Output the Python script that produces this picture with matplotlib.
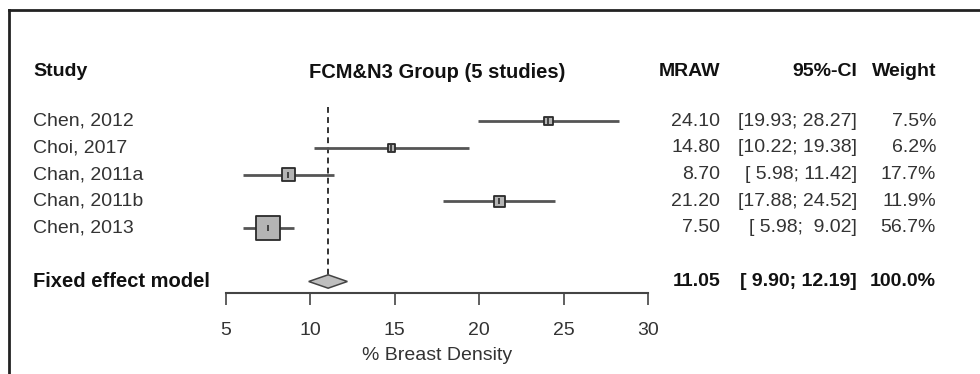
import matplotlib
matplotlib.use('Agg')
import matplotlib.pyplot as plt
import matplotlib.transforms as mtransforms
from matplotlib.lines import Line2D
from matplotlib.patches import Polygon

plt.rcParams['font.family'] = ['Liberation Sans', 'DejaVu Sans']

# data
studies = ['Chen, 2012', 'Choi, 2017', 'Chan, 2011a', 'Chan, 2011b', 'Chen, 2013']
mraw = [24.10, 14.80, 8.70, 21.20, 7.50]
ci_low = [19.93, 10.22, 5.98, 17.88, 5.98]
ci_high = [28.27, 19.38, 11.42, 24.52, 9.02]
weights = [7.5, 6.2, 17.7, 11.9, 56.7]
ci_txt = ['[19.93; 28.27]', '[10.22; 19.38]', '[ 5.98; 11.42]', '[17.88; 24.52]', '[ 5.98;  9.02]']

fixed_mean = 11.05
fixed_low = 9.90
fixed_high = 12.19
fixed_ci_txt = '[ 9.90; 12.19]'

xticks = [5, 10, 15, 20, 25, 30]

W, H = 980, 374
fig = plt.figure(figsize=(W / 100, H / 100), dpi=100)

# axis area in pixels: x 5..30 -> 226..648, rows from y=100 to the axis line y=293
ax = fig.add_axes([226 / W, (H - 293) / H, (648 - 226) / W, (293 - 100) / H])
row0, rowstep = 121, 26.75
ax.set_xlim(5, 30)
ax.set_ylim((293 - row0) / rowstep, (100 - row0) / rowstep)
for s in ['top', 'left', 'right']:
    ax.spines[s].set_visible(False)
ax.spines['bottom'].set_color('#444444')
ax.spines['bottom'].set_linewidth(1.5)
ax.set_yticks([])
ax.set_xticks(xticks)
ax.tick_params(axis='x', length=8.6, width=1.2, color='#444444', pad=12,
               labelsize=14, labelcolor='#333333')
ax.set_xlabel('% Breast Density', fontsize=14, color='#333333', labelpad=6)

rows = list(range(len(studies)))
fixed_row = 6

# dashed line at the pooled estimate
ax.vlines(fixed_mean, -0.52, fixed_row + 0.15, colors='#333333', linestyles=(0, (3, 2.2)),
          linewidth=1.4)

# confidence intervals
ax.hlines(rows, ci_low, ci_high, colors='#555555', linewidth=2)

# squares, area ~ weight
sizes = [290 * w / max(weights) for w in weights]
ax.scatter(mraw, rows, s=sizes, marker='s', facecolor='#B4B4B4', edgecolor='#2a2a2a',
           linewidth=1.3, zorder=3)
ax.scatter(mraw, rows, s=14, marker='|', color='#222222', linewidth=1.1, zorder=4)

# diamond for the fixed effect model
h = 0.25
ax.add_patch(Polygon([(fixed_low, fixed_row), (fixed_mean, fixed_row - h),
                      (fixed_high, fixed_row), (fixed_mean, fixed_row + h)],
                     closed=True, facecolor='#BEBEBE', edgecolor='#444444', linewidth=1.1,
                     zorder=3))

# text columns
tr = mtransforms.blended_transform_factory(fig.transFigure, ax.transData)
hdr_row = (72 - row0) / rowstep
fs = 14
fsb = 14.5
txtc = '#333333'
boldc = '#111111'

ax.text(33 / W, hdr_row, 'Study', transform=tr, ha='left', va='center', fontsize=fs,
        fontweight='bold', color=boldc, clip_on=False)
ax.text(437 / W, hdr_row, 'FCM&N3 Group (5 studies)', transform=tr, ha='center',
        va='center', fontsize=fsb, fontweight='bold', color=boldc, clip_on=False)
ax.text(720 / W, hdr_row, 'MRAW', transform=tr, ha='right', va='center', fontsize=fs,
        fontweight='bold', color=boldc, clip_on=False)
ax.text(857 / W, hdr_row, '95%-CI', transform=tr, ha='right', va='center', fontsize=fs,
        fontweight='bold', color=boldc, clip_on=False)
ax.text(936 / W, hdr_row, 'Weight', transform=tr, ha='right', va='center', fontsize=fs,
        fontweight='bold', color=boldc, clip_on=False)

for i, name in enumerate(studies):
    ax.text(33 / W, i, name, transform=tr, ha='left', va='center', fontsize=fs,
            color=txtc, clip_on=False)
    ax.text(720 / W, i, '%.2f' % mraw[i], transform=tr, ha='right', va='center',
            fontsize=fs, color=txtc, clip_on=False)
    ax.text(857 / W, i, ci_txt[i], transform=tr, ha='right', va='center', fontsize=fs,
            color=txtc, clip_on=False)
    ax.text(936 / W, i, '%.1f%%' % weights[i], transform=tr, ha='right', va='center',
            fontsize=fs, color=txtc, clip_on=False)

ax.text(33 / W, fixed_row, 'Fixed effect model', transform=tr, ha='left', va='center',
        fontsize=fsb, fontweight='bold', color=boldc, clip_on=False)
ax.text(720 / W, fixed_row, '%.2f' % fixed_mean, transform=tr, ha='right', va='center',
        fontsize=fs, fontweight='bold', color=boldc, clip_on=False)
ax.text(857 / W, fixed_row, fixed_ci_txt, transform=tr, ha='right', va='center',
        fontsize=fs, fontweight='bold', color=boldc, clip_on=False)
ax.text(936 / W, fixed_row, '%.1f%%' % sum(weights), transform=tr, ha='right',
        va='center', fontsize=fs, fontweight='bold', color=boldc, clip_on=False)

# frame lines (left and top) of the screenshot
fig.add_artist(Line2D([9 / W, 9 / W], [0, 1 - 10 / H], transform=fig.transFigure,
                      color='#222222', linewidth=2))
fig.add_artist(Line2D([9 / W, 1], [1 - 10 / H, 1 - 10 / H], transform=fig.transFigure,
                      color='#222222', linewidth=2))

fig.savefig('out.png', dpi=100)
